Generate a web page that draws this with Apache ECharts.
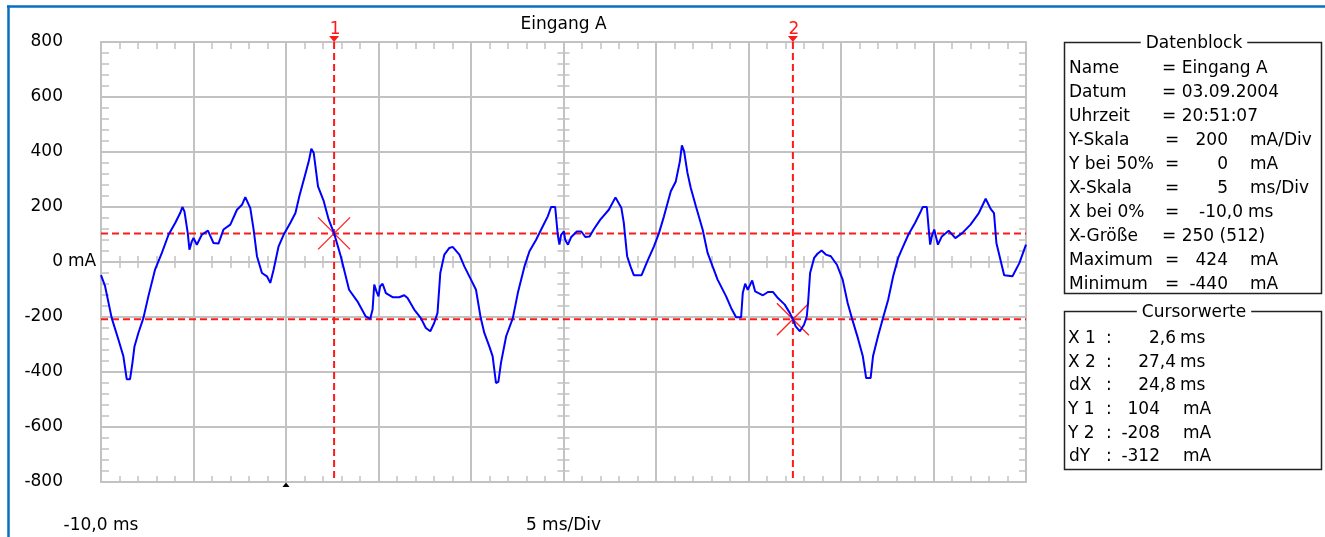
<!DOCTYPE html>
<html><head><meta charset="utf-8">
<script src="https://cdn.jsdelivr.net/npm/echarts@6/dist/echarts.min.js"></script>
<style>html,body{margin:0;padding:0;background:#fff;}#chart{width:1325px;height:537px;}</style>
</head><body><div id="chart"></div>
<script>
// ---------- data ----------
const timeMs = [
-10, -9.78, -9.42, -9.06, -8.79, -8.61, -8.43, -8.3, -8.19, -7.98, -7.71, -7.44, -7.08, -6.71, -6.35, -5.99, -5.72, -5.6, -5.49, -5.31, -5.22, -5.09, -5, -4.82, -4.55, -4.22, -3.92, -3.65, -3.38, -3.01, -2.65, -2.38, -2.2, -1.93, -1.75, -1.57, -1.3, -1.03, -0.85, -0.67, -0.4, -0.13, 0.23, 0.51, 0.72, 1.01, 1.23, 1.37, 1.5, 1.73, 2.04, 2.31, 2.6,
2.96, 3.41, 3.86, 4.31, 4.55, 4.68, 4.77, 4.89, 5, 5.09, 5.22, 5.4, 5.76, 6.12, 6.39, 6.57, 6.93, 7.29, 7.56, 7.8, 8.01, 8.19, 8.34, 8.56, 8.83, 9.01, 9.37, 9.64, 10, 10.27, 10.51, 10.72, 10.99, 11.17, 11.35, 11.48, 11.62, 11.9, 12.26, 12.53, 12.89, 13.16, 13.52, 13.88, 14.15, 14.33, 14.55, 14.69, 14.78, 14.87, 15.02,
15.09, 15.24, 15.42, 15.72, 15.96, 16.18, 16.41, 16.63, 16.99, 17.45, 17.81, 18.13, 18.26, 18.35, 18.44, 18.62, 18.8, 19.22, 19.53, 19.89, 20.16, 20.43, 20.8, 21.07, 21.29, 21.4, 21.52, 21.7, 21.88, 22.16, 22.52, 22.79, 23.06, 23.33, 23.79, 24.06, 24.33, 24.6, 24.69, 24.82, 24.96, 25.2, 25.36, 25.78, 26.05, 26.32, 26.59, 26.96, 27.23, 27.4,
27.55, 27.78, 28, 28.15, 28.22, 28.33, 28.55, 28.73, 28.95, 29.18, 29.45, 29.78, 30.09, 30.36, 30.64, 30.91, 31.18, 31.36, 31.6, 31.73, 32, 32.27, 32.55, 32.82, 33.09, 33.36, 33.64, 34, 34.27, 34.42, 34.64, 34.76, 34.82, 34.91, 35.04, 35.13, 35.24, 35.45, 35.82, 36.18, 36.55, 37, 37.45, 37.82, 38.09, 38.27, 38.4, 38.55, 38.82, 39.27, 39.64, 40
];
const currentMa = [
-48, -88, -204, -282, -343, -426, -426, -367, -307, -258, -204, -125, -28, 33, 99, 142, 178, 200, 184, 105, 45, 75, 87, 63, 99, 114, 69, 67, 118, 136, 190, 208, 236, 196, 118, 21, -40, -52, -76, -28, 57, 99, 142, 178, 239, 311, 366, 412, 396, 275, 221, 154, 104,
21, -101, -143, -198, -207, -173, -82, -107, -125, -88, -79, -113, -128, -128, -121, -131, -173, -204, -240, -252, -222, -185, -40, 27, 51, 55, 27, -16, -64, -101, -198, -258, -307, -343, -440, -436, -367, -270, -204, -113, -16, 39, 81, 130, 166, 200, 200, 99, 63, 99, 111,
81, 63, 91, 111, 111, 91, 93, 118, 154, 190, 235, 196, 142, 81, 21, -16, -48, -48, 2, 57, 105, 166, 257, 293, 366, 424, 402, 324, 269, 202, 118, 33, -16, -64, -125, -167, -201, -201, -113, -79, -101, -67, -107, -121, -109, -109, -131, -155, -185, -208,
-234, -252, -228, -198, -149, -40, 15, 30, 42, 27, 21, -10, -64, -149, -216, -276, -343, -422, -422, -343, -270, -204, -137, -52, 15, 57, 99, 142, 178, 200, 200, 105, 63, 93, 118, 93, 63, 93, 114, 87, 105, 136, 178, 230, 193, 178, 69, 27, -48, -52, -4, 63
];
const cursorLabels = ['1', '2'];
const cursorTimes = [2.6, 27.4];
const cursorValues = [104, -208];
const triggerTimes = [0];
const xTickLabels = {'-10': '-10,0 ms', '15': '5 ms/Div'};
const yUnitLabel = 'mA';
const chartTitle = 'Eingang A';
const datenTitle = 'Datenblock';
const datenRows = [
  ['Name', '= Eingang A', '', ''],
  ['Datum', '= 03.09.2004', '', ''],
  ['Uhrzeit', '= 20:51:07', '', ''],
  ['Y-Skala', '=', '200', 'mA/Div'],
  ['Y bei 50%', '=', '0', 'mA'],
  ['X-Skala', '=', '5', 'ms/Div'],
  ['X bei 0%', '=', '-10,0', 'ms'],
  ['X-Größe', '= 250 (512)', '', ''],
  ['Maximum', '=', '424', 'mA'],
  ['Minimum', '=', '-440', 'mA']
];
const cursorTitle = 'Cursorwerte';
const cursorRows = [
  ['X 1', '2,6', 'ms'],
  ['X 2', '27,4', 'ms'],
  ['dX', '24,8', 'ms'],
  ['Y 1', '104', 'mA'],
  ['Y 2', '-208', 'mA'],
  ['dY', '-312', 'mA']
];

// ---------- layout / style ----------
const FONT = '"DejaVu Sans", sans-serif';
const FS = 17;
const GRAY = '#c2c2c2';
const G = {left: 101, top: 42, width: 925, height: 440};
const txt = (s, x, y, align, color, extra) => Object.assign({
  type: 'text', x: x, y: y, z: 20,
  style: Object.assign({text: s, font: FS + 'px ' + FONT, fill: color || '#000', align: align || 'left', verticalAlign: 'middle'}, extra || {})
});

const xBase = {type: 'value', min: -10, max: 40, interval: 5};
const yBase = {type: 'value', min: -800, max: 800, interval: 200};
const minor = len => ({show: true, splitNumber: 5, length: len, lineStyle: {color: GRAY, width: 1.5}});
const noLabel = {show: false};
const edgeLine = {show: true, onZero: false, lineStyle: {color: GRAY, width: 2}};
const noLine = {show: false, onZero: false};

const graphic = [];
graphic.push({type: 'line', z: 30, shape: {x1: 7, y1: 6.5, x2: 1325, y2: 6.5}, style: {stroke: '#0a6fc2', lineWidth: 2.5}});
graphic.push({type: 'line', z: 30, shape: {x1: 8.5, y1: 5.5, x2: 8.5, y2: 537}, style: {stroke: '#0a6fc2', lineWidth: 2.5}});
graphic.push(txt(chartTitle, 563.5, 24.5, 'center'));

// Datenblock box
graphic.push({type: 'rect', z: 10, shape: {x: 1064.5, y: 42.5, width: 257, height: 251}, style: {fill: 'none', stroke: '#222', lineWidth: 1.5}});
graphic.push(txt(datenTitle, 1194, 43.7, 'center', '#000', {backgroundColor: '#fff', padding: [0, 5]}));
datenRows.forEach((r, i) => {
  const y = 68.7 + 23.94 * i;
  graphic.push(txt(r[0], 1069, y, 'left'));
  if (r[2] === '') {
    graphic.push(txt(r[1], 1162, y, 'left'));
  } else {
    const isMs = r[3] === 'ms';
    graphic.push(txt(r[1], 1165, y, 'left'));
    graphic.push(txt(r[2], isMs ? 1243 : 1228, y, 'right'));
    graphic.push(txt(r[3], isMs ? 1248 : 1250, y, 'left'));
  }
});
// Cursorwerte box
graphic.push({type: 'rect', z: 10, shape: {x: 1064.5, y: 311.5, width: 257, height: 158}, style: {fill: 'none', stroke: '#222', lineWidth: 1.5}});
graphic.push(txt(cursorTitle, 1194, 313, 'center', '#000', {backgroundColor: '#fff', padding: [0, 5]}));
cursorRows.forEach((r, i) => {
  const y = 338.7 + 23.6 * i;
  const isMs = r[2] === 'ms';
  graphic.push(txt(r[0], r[0][0] === 'd' ? 1069 : 1068, y, 'left'));
  graphic.push(txt(':', 1106, y, 'left'));
  graphic.push(txt(r[1], isMs ? 1176 : 1160, y, 'right'));
  graphic.push(txt(r[2], isMs ? 1180 : 1183, y, 'left'));
});

const chart = echarts.init(document.getElementById('chart'), null, {renderer: 'canvas'});
chart.setOption({
  animation: false,
  backgroundColor: '#fff',
  grid: Object.assign({outerBoundsMode: 'none', containLabel: false}, G),
  xAxis: [
    Object.assign({}, xBase, {position: 'bottom', axisLine: edgeLine, axisTick: {show: false, inside: true}, minorTick: minor(6),
      splitLine: {show: true, lineStyle: {color: GRAY, width: 2}},
      axisLabel: {show: true, margin: 35, fontFamily: FONT, fontSize: FS, color: '#000',
        formatter: v => xTickLabels[String(v)] || ''}}),
    Object.assign({}, xBase, {position: 'top', axisLine: edgeLine, axisTick: {show: false, inside: true}, minorTick: minor(7), splitLine: {show: false}, axisLabel: noLabel}),
    Object.assign({}, xBase, {position: 'bottom', offset: -220, axisLine: noLine, axisTick: {show: false, inside: true}, minorTick: minor(6), splitLine: {show: false}, axisLabel: noLabel}),
    Object.assign({}, xBase, {position: 'bottom', offset: -220, axisLine: noLine, axisTick: {show: false, inside: false}, minorTick: minor(6), splitLine: {show: false}, axisLabel: noLabel})
  ],
  yAxis: [
    Object.assign({}, yBase, {position: 'left', axisLine: edgeLine, axisTick: {show: false, inside: true}, minorTick: minor(8),
      splitLine: {show: true, lineStyle: {color: GRAY, width: 2}},
      axisLabel: {show: true, margin: 38, fontFamily: FONT, fontSize: FS, color: '#000', padding: [8, 0, 0, 0],
        formatter: v => String(v)}}),
    Object.assign({}, yBase, {position: 'right', axisLine: edgeLine, axisTick: {show: false, inside: true}, minorTick: minor(7), splitLine: {show: false}, axisLabel: noLabel}),
    Object.assign({}, yBase, {position: 'left', offset: -462.5, axisLine: noLine, axisTick: {show: false, inside: true}, minorTick: minor(6), splitLine: {show: false}, axisLabel: noLabel}),
    Object.assign({}, yBase, {position: 'left', offset: -462.5, axisLine: noLine, axisTick: {show: false, inside: false}, minorTick: minor(6), splitLine: {show: false}, axisLabel: noLabel}),
    Object.assign({}, yBase, {position: 'left', axisLine: noLine, axisTick: {show: false}, minorTick: {show: false}, splitLine: {show: false},
      axisLabel: {show: true, margin: 33, align: 'left', fontFamily: FONT, fontSize: FS, color: '#000', padding: [8, 0, 0, 0],
        formatter: v => (v === 0 ? yUnitLabel : '')}})
  ],
  series: [
    {
      type: 'custom', xAxisIndex: 0, yAxisIndex: 0, z: 2, clip: false, silent: true,
      data: cursorTimes.map((t, i) => [t, cursorValues[i], i]),
      renderItem: (params, api) => {
        const t = api.value(0), v = api.value(1), idx = api.value(2);
        const top = api.coord([t, 800]), bot = api.coord([t, -800]);
        const l = api.coord([-10, v]), r = api.coord([40, v]);
        const c = api.coord([t, v]);
        const dash = {stroke: '#ff1a1a', lineWidth: 2, lineDash: [7, 4], fill: null};
        const cross = {stroke: '#ff2020', lineWidth: 1.3, fill: null};
        return {type: 'group', children: [
          {type: 'line', shape: {x1: top[0], y1: top[1], x2: bot[0], y2: bot[1]}, style: dash},
          {type: 'line', shape: {x1: l[0], y1: l[1], x2: r[0], y2: r[1]}, style: dash},
          {type: 'line', z2: 5, shape: {x1: c[0] - 16, y1: c[1] - 16, x2: c[0] + 16, y2: c[1] + 16}, style: cross},
          {type: 'line', z2: 5, shape: {x1: c[0] + 16, y1: c[1] - 16, x2: c[0] - 16, y2: c[1] + 16}, style: cross},
          {type: 'polygon', shape: {points: [[top[0] - 5, top[1] - 6], [top[0] + 5, top[1] - 6], [top[0], top[1]]]}, style: {fill: '#ff1a1a'}},
          {type: 'text', x: top[0] + 1, y: top[1] - 12, style: {text: cursorLabels[idx], font: FS + 'px ' + FONT, fill: '#ff1a1a', align: 'center', verticalAlign: 'middle'}}
        ]};
      }
    },
    {
      type: 'custom', xAxisIndex: 0, yAxisIndex: 0, z: 2, clip: false, silent: true,
      data: triggerTimes.map(t => [t, -800]),
      renderItem: (params, api) => {
        const p = api.coord([api.value(0), api.value(1)]);
        return {type: 'polygon', shape: {points: [[p[0] - 3.5, p[1] + 5], [p[0] + 3.5, p[1] + 5], [p[0], p[1] + 0.5]]}, style: {fill: '#000'}};
      }
    },
    {
      type: 'line', xAxisIndex: 0, yAxisIndex: 0, z: 3,
      data: timeMs.map((t, i) => [t, currentMa[i]]),
      showSymbol: false, symbol: 'none',
      lineStyle: {color: '#0000ff', width: 2},
      itemStyle: {color: '#0000ff'}
    }
  ],
  graphic: graphic
});
</script>
</body></html>
